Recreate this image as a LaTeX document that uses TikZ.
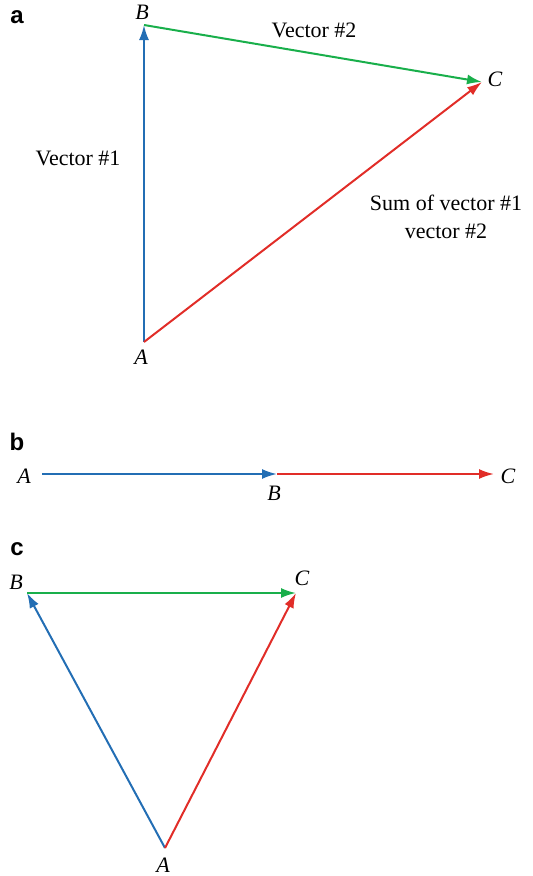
\documentclass[tikz,border=0pt]{standalone}
\usepackage{fontspec}
\setmainfont{Liberation Serif}
\setsansfont{Liberation Sans}
\usetikzlibrary{arrows.meta}
\definecolor{vblue}{RGB}{35,110,180}
\definecolor{vgreen}{RGB}{25,175,75}
\definecolor{vred}{RGB}{225,45,40}
\begin{document}
\begin{tikzpicture}[x=1pt,y=-1pt,
  vec/.style={line width=2pt,-{Latex[length=15pt,width=10pt]}},
  lbl/.style={font=\fontsize{22}{26}\selectfont\itshape,inner sep=0pt},
  txt/.style={font=\fontsize{22}{28}\selectfont,inner sep=0pt,align=center},
  panel/.style={font=\fontsize{24}{26}\selectfont\sffamily\bfseries,inner sep=0pt}]
\useasboundingbox (0,0) rectangle (533,876);
% panel a
\node[panel] (pa) at (17,17) {a};
\coordinate (aA) at (144,342);
\coordinate (aB) at (144,25);
\coordinate (aC) at (482,82);
\node[lbl] (laB) at (142,12) {B};
\node[lbl] (laC) at (495,79) {C};
\node[lbl] (laA) at (141,357) {A};
\draw[vec,vblue] (aA) -- (aB);
\draw[vec,vgreen] (aB) -- (aC);
\draw[vec,vred] (aA) -- (aC);
\node[txt] (v2) at (314,30) {Vector \#2};
\node[txt] (v1) at (78,158) {Vector \#1};
\node[txt] (sum) at (446,217) {Sum of vector \#1\\vector \#2};
% panel b
\node[panel] (pb) at (17,442) {b};
\coordinate (bA) at (42,474);
\coordinate (bB) at (277,474);
\coordinate (bC) at (494,474);
\node[lbl] (lbA) at (24,476) {A};
\node[lbl] (lbB) at (274,493) {B};
\node[lbl] (lbC) at (508,476) {C};
\draw[vec,vred] (bB) -- (bC);
\draw[vec,vblue] (bA) -- (bB);
% panel c
\node[panel] (pc) at (17,549) {c};
\coordinate (cB) at (27,593);
\coordinate (cC) at (296,593);
\coordinate (cA) at (165,848);
\node[lbl] (lcB) at (16,582) {B};
\node[lbl] (lcC) at (302,578) {C};
\node[lbl] (lcA) at (163,865) {A};
\draw[vec,vgreen] (cB) -- (cC);
\draw[vec,vblue] (cA) -- (cB);
\draw[vec,vred] (cA) -- (cC);
\end{tikzpicture}
\end{document}
